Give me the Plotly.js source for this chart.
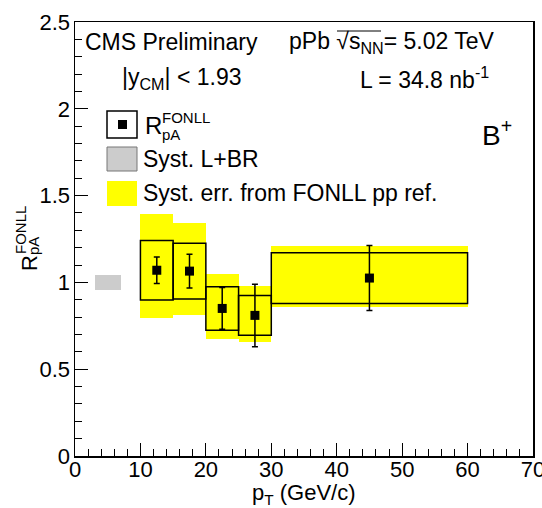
<!DOCTYPE html>
<html>
<head>
<meta charset="utf-8">
<script src="https://cdn.plot.ly/plotly-3.0.1.min.js"></script>
<style>html,body{margin:0;padding:0;background:#fff;}#plot{width:542px;height:508px;}</style>
</head>
<body>
<div id="plot"></div>
<script>
// ---- data ----
const binLow = [10, 15, 20, 25, 30];
const binHigh = [15, 20, 25, 30, 60];
const ptCenter = [12.5, 17.5, 22.5, 27.5, 45];
const rpa = [1.07, 1.065, 0.85, 0.81, 1.025];
const statErr = [0.077, 0.097, 0.12, 0.18, 0.187];
const systErr = [0.172, 0.16, 0.125, 0.115, 0.146];
const fonllUp = [0.322, 0.275, 0.198, 0.169, 0.185];
const fonllDown = [0.277, 0.253, 0.176, 0.152, 0.165];
const normX = [5];
const normWidth = [4];
const normCenter = [1];
const normErr = [0.045];
const xTitle = 'p<sub>T</sub> (GeV/c)';

// ---- helpers ----
const FONT = 'Liberation Sans, Arial, Helvetica, sans-serif';
const PL = 75, PR = 533, PT = 22, PB = 456;
const px = x => (x - PL) / (PR - PL);
const py = y => (PB - y) / (PB - PT);

const binMid = binLow.map((l, i) => (l + binHigh[i]) / 2);
const binW = binLow.map((l, i) => binHigh[i] - l);

const traces = [
  { type: 'bar', x: binMid, width: binW,
    base: rpa.map((v, i) => v - fonllDown[i]),
    y: fonllUp.map((u, i) => u + fonllDown[i]),
    marker: { color: '#ffff00', line: { width: 0 } }, hoverinfo: 'skip' },
  { type: 'bar', x: normX, width: normWidth,
    base: normCenter.map((c, i) => c - normErr[i]),
    y: normErr.map(e => 2 * e),
    marker: { color: '#cccccc', line: { width: 0 } }, hoverinfo: 'skip' },
  { type: 'bar', x: binMid, width: binW,
    base: rpa.map((v, i) => v - systErr[i]),
    y: systErr.map(e => 2 * e),
    marker: { color: 'rgba(0,0,0,0)', line: { width: 1.5, color: '#000' } }, hoverinfo: 'skip' },
  { type: 'scatter', mode: 'markers', x: ptCenter, y: rpa,
    marker: { symbol: 'square', size: 9, color: '#000' },
    error_y: { type: 'data', array: statErr, visible: true, color: '#000', thickness: 1.5, width: 3 } }
];

const txt = (x, y, text, size, extra) => Object.assign({
  xref: 'paper', yref: 'paper', x: px(x), y: py(y), text: text, showarrow: false,
  xanchor: 'left', yanchor: 'middle', font: { family: FONT, size: size, color: '#000' }
}, extra || {});

const annotations = [
  txt(83, 42, 'CMS Preliminary', 23),
  txt(287, 42, 'pPb √s<sub>NN</sub>= 5.02 TeV', 23),
  txt(120, 78, '|y<sub>CM</sub>| < 1.93', 23),
  txt(358, 78, 'L = 34.8 nb<sup>-1</sup>', 23),
  txt(480, 133, 'B<sup>+</sup>', 28),
  // legend
  txt(143, 126, 'R', 24),
  txt(160, 117, 'FONLL', 15),
  txt(160, 134, 'pA', 15),
  txt(141, 159, 'Syst. L+BR', 23),
  txt(141, 193, 'Syst. err. from FONLL pp ref.', 23),
  // x title
  txt(304, 494, xTitle, 22, { xanchor: 'center' }),
  // y title
  txt(29, 263, 'R', 22, { xanchor: 'center', textangle: -90 }),
  txt(20, 230, 'FONLL', 15, { xanchor: 'center', textangle: -90 }),
  txt(33, 246, 'pA', 15, { xanchor: 'center', textangle: -90 })
];

const shapes = [
  // sqrt overline
  { type: 'line', xref: 'paper', yref: 'paper', x0: px(337), x1: px(381), y0: py(31), y1: py(31), line: { color: '#000', width: 1 } },
  // legend swatches
  { type: 'rect', xref: 'paper', yref: 'paper', x0: px(107), x1: px(137), y0: py(111), y1: py(138), fillcolor: '#fff', line: { color: '#000', width: 1.5 } },
  { type: 'rect', xref: 'paper', yref: 'paper', x0: px(118), x1: px(127), y0: py(120), y1: py(129), fillcolor: '#000', line: { width: 0 } },
  { type: 'rect', xref: 'paper', yref: 'paper', x0: px(107), x1: px(137), y0: py(147), y1: py(171), fillcolor: '#cccccc', line: { color: '#777', width: 1 } },
  { type: 'rect', xref: 'paper', yref: 'paper', x0: px(107), x1: px(137), y0: py(181), y1: py(206), fillcolor: '#ffff00', line: { width: 0 } }
];

const layout = {
  width: 542, height: 508,
  margin: { l: PL, r: 542 - PR, t: PT, b: 508 - PB, pad: 0 },
  paper_bgcolor: '#fff', plot_bgcolor: '#fff',
  showlegend: false, barmode: 'overlay', bargap: 0,
  font: { family: FONT, size: 22, color: '#000' },
  xaxis: {
    range: [0, 70], dtick: 10, tick0: 0, showgrid: false, zeroline: false,
    showline: true, mirror: true, linecolor: '#000', linewidth: 1.5,
    ticks: 'inside', ticklen: 13, tickwidth: 1, tickcolor: '#000',
    minor: { dtick: 2, ticks: 'inside', ticklen: 7, tickwidth: 1, tickcolor: '#000', showgrid: false },
    tickfont: { family: FONT, size: 22 }, ticklabeloverflow: 'allow', ticklabelstandoff: -7
  },
  yaxis: {
    range: [0, 2.5], dtick: 0.5, tick0: 0, showgrid: false, zeroline: false,
    showline: true, mirror: true, linecolor: '#000', linewidth: 1.5,
    ticks: 'inside', ticklen: 13, tickwidth: 1, tickcolor: '#000',
    minor: { dtick: 0.1, ticks: 'inside', ticklen: 7, tickwidth: 1, tickcolor: '#000', showgrid: false },
    tickfont: { family: FONT, size: 22 }, ticklabelstandoff: -1
  },
  annotations: annotations,
  shapes: shapes
};

Plotly.newPlot('plot', traces, layout, { staticPlot: true, displayModeBar: false });
</script>
</body>
</html>
